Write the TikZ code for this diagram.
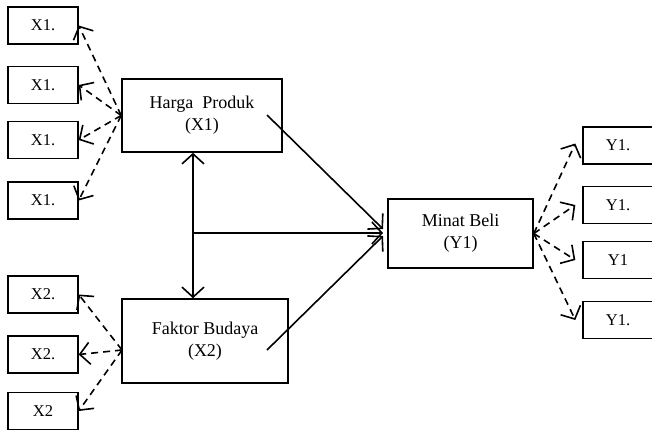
\documentclass[tikz,border=0pt]{standalone}
\usepackage{fontspec}
\setmainfont{Liberation Serif}
\usetikzlibrary{arrows.meta}

\begin{document}
\begin{tikzpicture}[x=1pt,y=-1pt,
	kotak/.style={draw, line width=1.4pt, minimum width=70pt, minimum height=37pt, font=\fontsize{16.5}{18}\selectfont},
	utama/.style={draw, line width=1.6pt, align=center, font=\fontsize{18}{22}\selectfont},
	panah/.style={line width=1.6pt, -{Straight Barb[length=10pt,width=22pt,line width=1.6pt]}},
	duaarah/.style={line width=1.6pt, {Straight Barb[length=10pt,width=22pt,line width=1.6pt]}-{Straight Barb[length=10pt,width=22pt,line width=1.6pt]}},
	putus/.style={panah, dash pattern=on 7pt off 5pt}]
	
	\useasboundingbox (0,0) rectangle (652,429);
	
	% indikator X1
	\node[kotak] (x1a) at (43,25.5) {X1.};
	\node[kotak] (x1b) at (43,85) {X1.};
	\node[kotak] (x1c) at (43,140) {X1.};
	\node[kotak] (x1d) at (43,200.5) {X1.};
	
	% indikator X2
	\node[kotak] (x2a) at (43,294.5) {X2.};
	\node[kotak] (x2b) at (43,354.5) {X2.};
	\node[kotak] (x2c) at (43,411) {X2};
	
	% variabel
	\node[utama, minimum width=160pt, minimum height=73pt] (harga) at (202,115.5) {Harga\ \ Produk\\(X1)};
	\node[utama, minimum width=166pt, minimum height=84pt] (faktor) at (205,341) {Faktor Budaya\\(X2)};
	\node[utama, minimum width=145pt, minimum height=69pt] (minat) at (460.5,233.5) {Minat Beli\\(Y1)};
	
	% indikator Y1
	\node[kotak] (y1a) at (618,145.5) {Y1.};
	\node[kotak] (y1b) at (618,205) {Y1.};
	\node[kotak] (y1c) at (618,260) {Y1};
	\node[kotak] (y1d) at (618,320) {Y1.};
	
	\coordinate (hp) at (267,115);
	\coordinate (fb) at (267,350);
	\coordinate (fbkiri) at (122,350);
	\coordinate (sumbu) at (193,233);
	\coordinate (masuk) at (383,233);
	
	\draw[putus] (harga.west) -- (x1a.east);
	\draw[putus] (harga.west) -- (x1b.east);
	\draw[putus] (harga.west) -- (x1c.east);
	\draw[putus] (harga.west) -- (x1d.east);
	
	\draw[putus] (fbkiri) -- (x2a.east);
	\draw[putus] (fbkiri) -- (x2b.east);
	\draw[putus] (fbkiri) -- (x2c.east);
	
	\draw[putus] (minat.east) -- ([xshift=-7pt,yshift=2pt]y1a.west);
	\draw[putus] (minat.east) -- ([xshift=-7pt]y1b.west);
	\draw[putus] (minat.east) -- ([xshift=-7pt]y1c.west);
	\draw[putus] (minat.east) -- ([xshift=-7pt]y1d.west);
	
	\draw[panah] (hp) -- ([yshift=4pt]masuk);
	\draw[panah] (sumbu) -- (masuk);
	\draw[panah] (fb) -- ([yshift=-3pt]masuk);
	\draw[duaarah] (sumbu |- harga.south) -- (sumbu |- faktor.north);
	
\end{tikzpicture}
\end{document}
